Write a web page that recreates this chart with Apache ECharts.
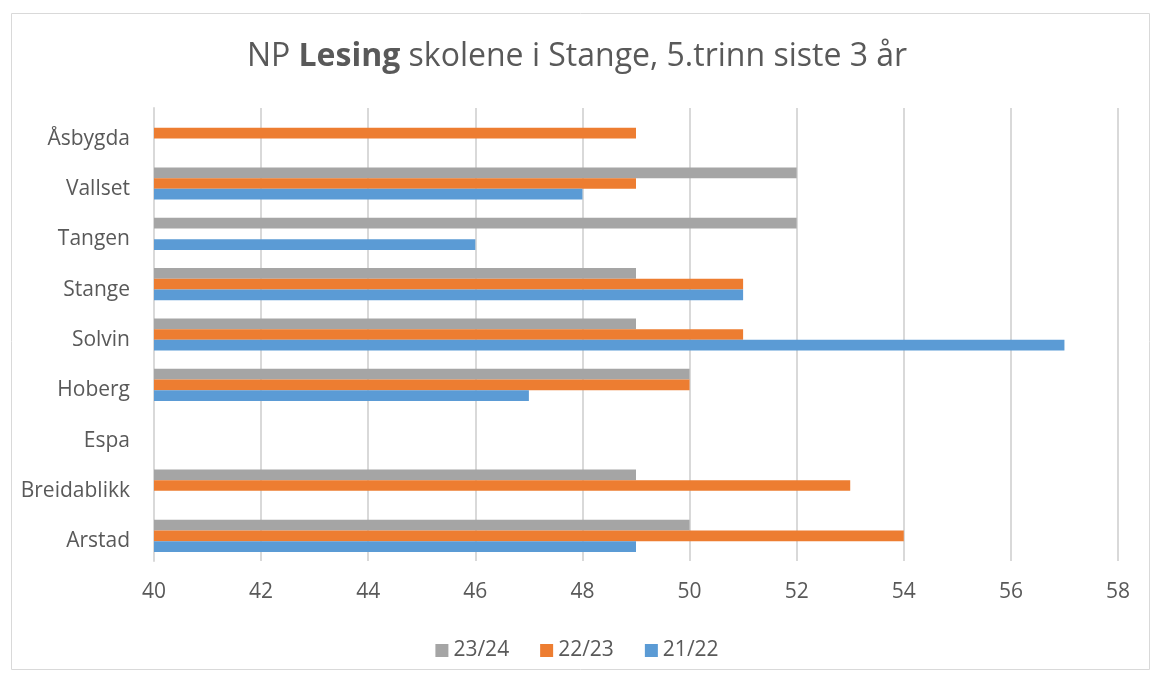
<!DOCTYPE html>
<html>
<head>
<meta charset="utf-8">
<script src="https://cdn.jsdelivr.net/npm/echarts@6/dist/echarts.min.js"></script>
<style>
  html, body { margin: 0; padding: 0; background: #fff; }
  #chart { width: 1154px; height: 675px; }
</style>
</head>
<body>
<div id="chart"></div>
<script>
// Schools, bottom to top as drawn on the category axis
const schools = ['Arstad', 'Breidablikk', 'Espa', 'Hoberg', 'Solvin', 'Stange', 'Tangen', 'Vallset', 'Åsbygda'];
const s2122 = [49, null, null, 47, 57, 51, 46, 48, null];
const s2223 = [54, 53, null, 50, 51, 51, null, 49, 49];
const s2324 = [50, 49, null, 50, 49, 49, 52, 52, null];
const xTicks = { min: 40, max: 58, step: 2 };

const textColor = '#595959';
const font = '"Open Sans", Lato, sans-serif';

const chart = echarts.init(document.getElementById('chart'));
const bar = (name, data, color) => ({
  name, type: 'bar', data, barWidth: 10.7, barGap: '0%',
  itemStyle: { color }
});

chart.setOption({
  animation: false,
  textStyle: { fontFamily: font },
  graphic: [{
    type: 'rect', left: 9, top: 11,
    shape: { width: 1138, height: 656 },
    style: { fill: 'none', stroke: '#d9d9d9', lineWidth: 1 }
  }],
  title: {
    text: 'NP {b|Lesing} skolene i Stange, 5.trinn siste 3 år',
    left: 'center', top: 36,
    textStyle: {
      fontSize: 32, fontWeight: 'normal', color: textColor, fontFamily: font,
      rich: { b: { fontSize: 32, fontWeight: 'bold', color: textColor, fontFamily: font } }
    }
  },
  legend: {
    data: ['23/24', '22/23', '21/22'],
    bottom: 9, left: 'center',
    itemWidth: 13, itemHeight: 13, itemGap: 31,
    icon: 'rect',
    textStyle: { fontSize: 21, color: textColor, fontFamily: font }
  },
  grid: { left: 154, right: 36, top: 108, bottom: 114 },
  xAxis: {
    type: 'value', min: xTicks.min, max: xTicks.max, interval: xTicks.step,
    axisLine: { show: false }, axisTick: { show: false },
    axisLabel: { fontSize: 21, color: textColor, margin: 21 },
    splitLine: { lineStyle: { color: '#d9d9d9', width: 2 } }
  },
  yAxis: {
    type: 'category', data: schools,
    axisLine: { lineStyle: { color: '#d9d9d9', width: 2 } },
    axisTick: { show: false },
    axisLabel: {
      fontSize: 21, color: textColor, margin: 24,
      formatter: (v) => '{n|' + v + '}',
      rich: { n: { fontSize: 21, color: textColor, fontFamily: font, padding: [11, 0, 0, 0] } }
    }
  },
  series: [
    bar('23/24', s2324, '#a5a5a5'),
    bar('22/23', s2223, '#ed7d31'),
    bar('21/22', s2122, '#5b9bd5')
  ]
});
</script>
</body>
</html>
